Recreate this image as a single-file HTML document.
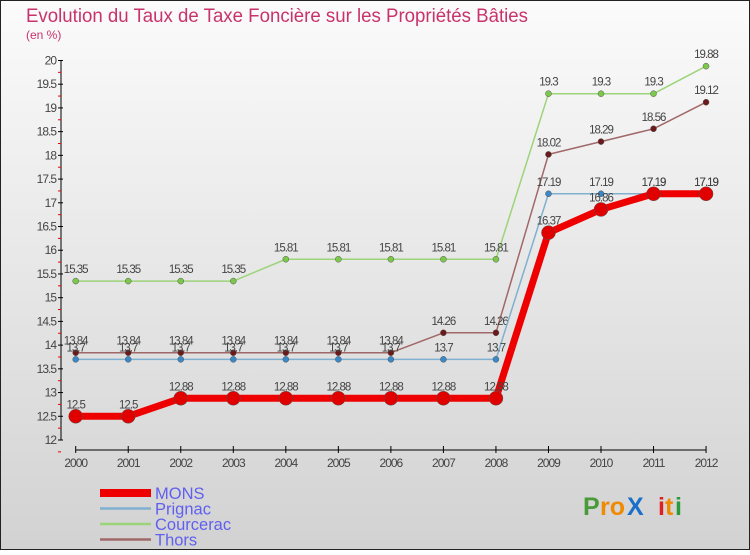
<!DOCTYPE html>
<html><head><meta charset="utf-8">
<style>
html,body{margin:0;padding:0;}
body{width:750px;height:550px;overflow:hidden;font-family:"Liberation Sans",sans-serif;}
</style></head>
<body>
<svg id="chart" width="750" height="550" xmlns="http://www.w3.org/2000/svg">
<defs>
<linearGradient id="bg" x1="0" y1="0" x2="0" y2="1">
<stop offset="0" stop-color="#fbfbfb"/><stop offset="1" stop-color="#d2d2d2"/>
</linearGradient>
</defs>
<rect x="0.5" y="0.5" width="749" height="549" fill="url(#bg)" stroke="#222" stroke-width="1"/>
<text x="26" y="22" font-size="19" fill="#c8336b" textLength="502" lengthAdjust="spacingAndGlyphs">Evolution du Taux de Taxe Foncière sur les Propriétés Bâties</text>
<text x="26" y="39" font-size="12" fill="#c8336b">(en %)</text>
<g id="axes"></g>
<g id="series"></g>
<g id="legend"></g>
<g font-size="25" font-weight="bold">
<text x="583" y="515" fill="#4a9a3a">P</text>
<text x="600" y="515" fill="#f08a00">ro</text>
<text x="627" y="515" fill="#1a70c8">X</text>
<text x="658" y="515" fill="#e02020">i</text>
<text x="665" y="515" fill="#f08a00">t</text>
<text x="675" y="515" fill="#2a9a3a">i</text>
</g>
</svg>
<script>
const years = ["2000","2001","2002","2003","2004","2005","2006","2007","2008","2009","2010","2011","2012"];
const yTicks = [12,12.5,13,13.5,14,14.5,15,15.5,16,16.5,17,17.5,18,18.5,19,19.5,20];
const mons = [12.5,12.5,12.88,12.88,12.88,12.88,12.88,12.88,12.88,16.37,16.86,17.19,17.19];
const prignac = [13.7,13.7,13.7,13.7,13.7,13.7,13.7,13.7,13.7,17.19,17.19,17.19,17.19];
const courcerac = [15.35,15.35,15.35,15.35,15.81,15.81,15.81,15.81,15.81,19.3,19.3,19.3,19.88];
const thors = [13.84,13.84,13.84,13.84,13.84,13.84,13.84,14.26,14.26,18.02,18.29,18.56,19.12];
const seriesNames = ["MONS","Prignac","Courcerac","Thors"];

const NS="http://www.w3.org/2000/svg";
const X0=75.7, XS=52.53, Y0=440, YS=47.44, YMIN=12;
function xs(i){return X0+i*XS;}
function ys(v){return Y0-(v-YMIN)*YS;}
function mk(tag,attrs,parent){const e=document.createElementNS(NS,tag);for(const k in attrs)e.setAttribute(k,attrs[k]);parent.appendChild(e);return e;}

const axes=document.getElementById('axes');
const yAxis=mk('line',{x1:61,y1:ys(20),x2:61,y2:ys(12),stroke:'#000','stroke-width':1},axes);


yTicks.forEach(v=>{
  const y=ys(v);
  mk('line',{x1:58,y1:y,x2:63,y2:y,stroke:'#000'},axes);
  mk('line',{x1:58,y1:y+YS/4,x2:61,y2:y+YS/4,stroke:'#e00'},axes);
  const t=mk('text',{x:56,y:y+4,'font-size':12,fill:'#444','text-anchor':'end','letter-spacing':'-1'},axes);
  t.textContent=String(v);
  
  
});
const xAxis=mk('line',{x1:xs(0),y1:450,x2:xs(12),y2:450,stroke:'#000'},axes);


years.forEach((yr,i)=>{
  mk('line',{x1:xs(i),y1:446,x2:xs(i),y2:453,stroke:'#000'},axes);
  const t=mk('text',{x:xs(i),y:467,'font-size':12,fill:'#444','text-anchor':'middle','letter-spacing':'-1'},axes);
  t.textContent=yr;
  
  
});

const sg=document.getElementById('series');
function drawSeries(data,name,color,dot,lw,r){
  const g=mk('g',{},sg);
  
  
  const pts=data.map((v,i)=>xs(i)+','+ys(v)).join(' ');
  mk('polyline',{points:pts,fill:'none',stroke:color,'stroke-width':lw,'stroke-linejoin':'round'},g);
  data.forEach((v,i)=>{
    const c=mk('circle',{cx:xs(i),cy:ys(v),r:r,fill:dot,stroke:'#555','stroke-width':0.5},g);
    
    
    const t=mk('text',{x:xs(i),y:ys(v)-8,'font-size':11.5,fill:'#444','text-anchor':'middle','letter-spacing':'-1'},g);
    t.textContent=String(v);
    
    
  });
}
drawSeries(courcerac,'courcerac','#9cd47a','#7cc84a',1.5,3);
drawSeries(thors,'thors','#a06868','#6a1a1a',1.5,3);
drawSeries(prignac,'prignac','#80b0d0','#3a88c8',1.5,3);
drawSeries(mons,'mons','#ee0000','#e00000',7,7);

const lg=document.getElementById('legend');
const lcols=['#ee0000','#80b0d0','#9cd47a','#a06868'];
const lws=[8,2.5,2.5,2.5];
seriesNames.forEach((n,i)=>{
  const y=493+i*15.5;
  const g=mk('g',{},lg);
  
  
  mk('line',{x1:100,y1:y,x2:151,y2:y,stroke:lcols[i],'stroke-width':lws[i]},g);
  const t=mk('text',{x:155,y:y+6,'font-size':16.5,fill:'#6060f0'},g);
  t.textContent=n;
});
</script>
</body></html>
